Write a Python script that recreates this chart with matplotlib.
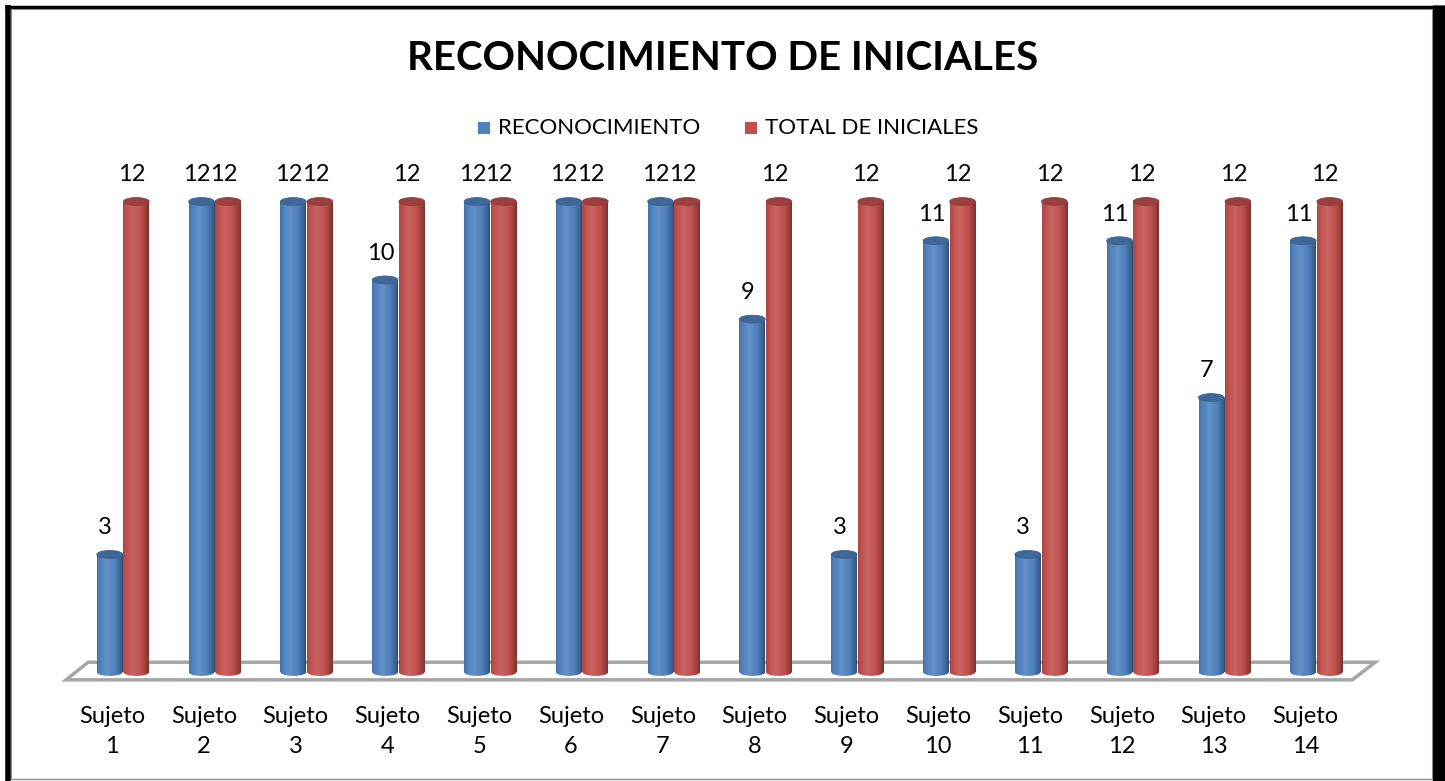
import matplotlib
matplotlib.use("Agg")
import matplotlib.pyplot as plt
import numpy as np
from matplotlib.patches import Ellipse, Polygon, Rectangle
from matplotlib.lines import Line2D

plt.rcParams['font.family'] = ['Lato', 'DejaVu Sans']

# data
subjects = ["Sujeto\n%d" % i for i in range(1, 15)]
reconocimiento = [3, 12, 12, 10, 12, 12, 12, 9, 3, 11, 3, 11, 7, 11]
total_iniciales = [12, 12, 12, 12, 12, 12, 12, 12, 12, 12, 12, 12, 12, 12]
series_names = ["RECONOCIMIENTO", "TOTAL DE INICIALES"]

BLUE = "#4f81bd"
RED = "#c0504d"

def shade(hexcol, f):
    c = np.array(matplotlib.colors.to_rgb(hexcol))
    if f >= 0:
        return c + (1 - c) * f
    return c * (1 + f)

def cylinder_grad(base):
    # left -> right shading of a lit cylinder
    xs = np.linspace(0, 1, 60)
    prof = np.interp(xs, [0, 0.12, 0.38, 0.7, 0.9, 1.0], [-0.12, 0.0, 0.12, 0.0, -0.22, -0.38])
    return np.array([[shade(base, f) for f in prof]])

W, H = 1445, 781
fig = plt.figure(figsize=(W / 100, H / 100), dpi=100)
ax = fig.add_axes([0, 0, 1, 1])
ax.set_xlim(-1.34, 14.40)
ax.set_ylim(-2.78, 17.14)
ax.axis('off')

n = len(subjects)
x = np.arange(n)
w = 0.28
off = 0.145
cap_h = 0.2

# floor
floor = Polygon([(-0.62, -0.2), (n - 0.61, -0.2), (n - 0.36, 0.25), (-0.38, 0.25)],
                closed=True, facecolor='white', edgecolor='#a6a6a6', lw=2.5, zorder=1)
ax.add_patch(floor)

for vals, col, dx in [(reconocimiento, BLUE, -off), (total_iniciales, RED, off)]:
    bars = ax.bar(x + dx, vals, w, color=col, zorder=3)
    grad = cylinder_grad(col)
    for b, v in zip(bars, vals):
        x0 = b.get_x()
        x1 = x0 + b.get_width()
        im = ax.imshow(grad, extent=(x0, x1, -cap_h, v), aspect='auto', zorder=4,
                       interpolation='bilinear')
        im.set_clip_path(b)
        bottom = Ellipse((x0 + w / 2, 0), w, cap_h, facecolor='none', edgecolor='none')
        ax.add_patch(bottom)
        im2 = ax.imshow(grad, extent=(x0, x1, -cap_h, v), aspect='auto', zorder=4,
                        interpolation='bilinear')
        im2.set_clip_path(bottom)
        top = Ellipse((x0 + w / 2, v), w, cap_h, facecolor=shade(col, -0.2),
                      edgecolor=shade(col, -0.25), lw=0.6, zorder=5)
        ax.add_patch(top)
        ax.text(x0 + w / 2 - 0.05, v + 0.68, str(v), ha='center', va='center',
                fontsize=17, color='black', zorder=6)

for xi, lab in zip(x, subjects):
    ax.text(xi - 0.12, -1.52, lab, ha='center', va='center', fontsize=17,
            linespacing=1.5)

fig.text(0.5, 1 - 58 / H, "RECONOCIMIENTO DE INICIALES", ha='center', va='center',
         fontsize=29, fontweight='bold')

# legend, drawn by hand so the spacing matches
for name, col, sx in [(series_names[0], BLUE, 478), (series_names[1], RED, 745)]:
    fig.add_artist(Rectangle((sx / W, 1 - 134 / H), 12 / W, 12 / H, facecolor=col,
                             edgecolor='none', transform=fig.transFigure))
    fig.text((sx + 20) / W, 1 - 128 / H, name, ha='left', va='center', fontsize=16)

# outer frame (black border left/top/right, thin grey inner line)
def fline(xs, ys, **kw):
    fig.add_artist(Line2D([v / W for v in xs], [1 - v / H for v in ys],
                          transform=fig.transFigure, solid_capstyle='butt', **kw))

fline([7.5, 7.5], [H, 5], color='black', lw=4)
fline([5, W], [6.5, 6.5], color='black', lw=2.5)
fline([1438.5, 1438.5], [H, 5], color='black', lw=9.5)
fline([10.5, 1431.5], [779, 779], color='#8c8c8c', lw=1)
fline([10.5, 10.5], [779, 8.5], color='#8c8c8c', lw=0.8)
fline([10.5, 1431.5], [8.5, 8.5], color='#8c8c8c', lw=0.8)
fline([1431.5, 1431.5], [779, 8.5], color='#8c8c8c', lw=0.8)

fig.savefig("out.png", dpi=100)
